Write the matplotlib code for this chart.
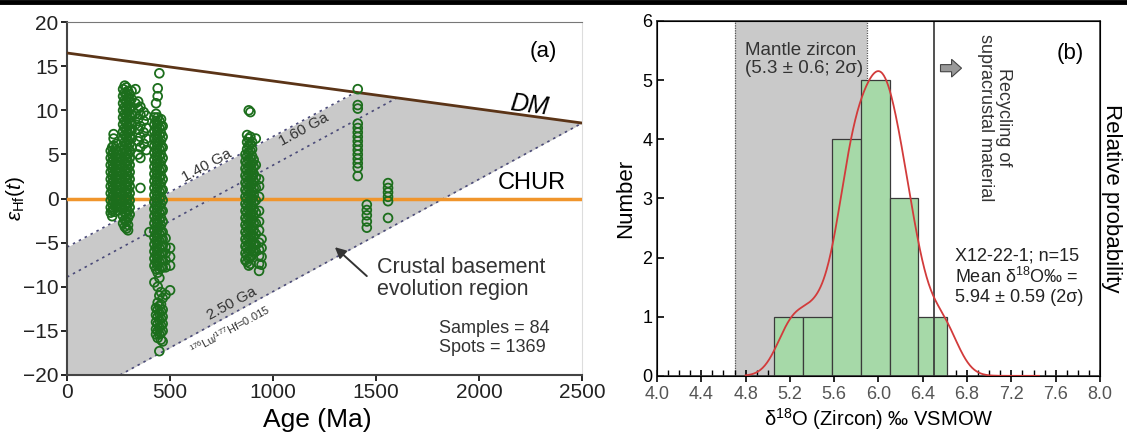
import numpy as np
import matplotlib.pyplot as plt
from matplotlib.lines import Line2D
from matplotlib.patches import FancyArrow

plt.rcParams['font.family'] = ['Liberation Sans', 'DejaVu Sans']
plt.rcParams['mathtext.fontset'] = 'custom'
plt.rcParams['mathtext.rm'] = 'Liberation Sans'
plt.rcParams['mathtext.it'] = 'Liberation Sans:italic'

# ---- panel (a) data: zircon Hf isotopes, columns of spots (age Ma, eHf values)
hf_cols = [
    (212, [5.4, 4.6, 3.8, 3.0, 2.2, 1.4, 0.6, -0.2, -1.0, -1.6]),
    (219, [5.8, 5.0, 4.2, 3.4, 2.6, 1.8, 1.0, 0.2, -0.6, -1.4, -2.0]),
    (226, [7.3, 6.8, 6.0, 5.2, 4.4, 3.6, 2.8, 2.0, 1.2, 0.4, -0.4, -1.2]),
    (233, [5.6, 4.8, 4.0, 3.2, 2.4, 1.6, 0.8, 0.0, -0.8, -1.5]),
    (240, [6.2, 5.4, 4.6, 3.8, 3.0, 2.2, 1.4, 0.6, -0.2, -1.0]),
    (247, [5.0, 4.2, 3.4, 2.6, 1.8, 1.0, 0.2, -0.6, -1.3]),
    (255, [4.6, 3.8, 3.0, 2.2, 1.4, 0.6, -0.2, -1.0]),
    (272, [12.4, 11.6, 10.8, 10.0, 9.2, 8.4, 7.6, 6.8, 6.0, 5.2, 4.4, 3.6, 2.8, 2.0,
           1.2, 0.4, -0.4, -1.2, -2.0, -2.8]),
    (280, [12.8, 12.0, 11.2, 10.4, 9.6, 8.8, 8.0, 7.2, 6.4, 5.6, 4.8, 4.0, 3.2, 2.4,
           1.6, 0.8, 0.0, -0.8, -1.6, -2.4, -3.2]),
    (288, [12.6, 11.8, 11.0, 10.2, 9.4, 8.6, 7.8, 7.0, 6.2, 5.4, 4.6, 3.8, 3.0, 2.2,
           1.4, 0.6, -0.2, -1.0, -1.8, -2.6, -3.4]),
    (296, [12.2, 11.4, 10.6, 9.8, 9.0, 8.2, 7.4, 6.6, 5.8, 5.0, 4.2, 3.4, 2.6, 1.8,
           1.0, 0.2, -0.6, -1.4, -2.2, -3.0, -3.6]),
    (304, [11.8, 11.0, 10.2, 9.4, 8.6, 7.8, 7.0, 6.2, 5.4, 4.6, 3.8, 3.0, 2.2, 1.4,
           0.6, -0.2, -1.0, -1.8]),
    (313, [12.2, 11.3, 10.4, 9.5, 8.6, 7.7, 6.8, 5.9]),
    (332, [12.4, 10.8, 9.6, 8.4]),
    (345, [11.0, 10.2, 9.0, 7.8, 6.5, 5.0]),
    (356, [10.4, 9.5, 8.2, 7.0, 5.8, 4.6, 1.2]),
    (372, [9.8, 8.8, 7.5, 6.2]),
    (385, [9.4, 8.0, 6.8, 5.5]),
    (400, [-3.8]),
    (424, [9.2, 8.4, 7.6, 6.8, 6.0, 5.2, 4.4, 3.6, 2.8, 2.0, 1.2, 0.4, -0.4, -1.2, -2.0,
           -2.8, -3.6, -4.4, -5.2, -6.0, -6.8, -7.6, -9.5]),
    (432, [10.8, 9.6, 8.8, 8.0, 7.2, 6.4, 5.6, 4.8, 4.0, 3.2, 2.4, 1.6, 0.8, 0.0, -0.8,
           -1.6, -2.4, -3.2, -4.0, -4.8, -5.6, -6.4, -7.2, -8.0, -12.4, -13.2, -14.0,
           -14.8, -15.4]),
    (440, [12.5, 11.6, 9.2, 8.4, 7.6, 6.8, 6.0, 5.2, 4.4, 3.6, 2.8, 2.0, 1.2, 0.4, -0.4,
           -1.2, -2.0, -2.8, -3.6, -4.4, -5.2, -6.0, -6.8, -7.6, -8.4, -10.0, -11.8,
           -12.6, -13.4, -14.2, -15.0, -15.8]),
    (448, [14.2, 8.8, 8.0, 7.2, 6.4, 5.6, 4.8, 4.0, 3.2, 2.4, 1.6, 0.8, 0.0, -0.8, -1.6,
           -2.4, -3.2, -4.0, -4.8, -5.6, -6.4, -7.2, -8.0, -9.0, -11.0, -12.2, -13.0,
           -13.8, -14.6, -15.4, -17.3]),
    (456, [9.0, 8.2, 7.4, 6.6, 5.8, 5.0, 4.2, 3.4, 2.6, 1.8, 1.0, 0.2, -0.6, -1.4, -2.2,
           -3.0, -3.8, -4.6, -5.4, -6.2, -7.0, -7.8, -10.6, -12.0, -12.8, -13.6, -14.4,
           -15.2, -16.0]),
    (464, [8.2, 7.0, 5.8, 4.6, 3.4, 2.2, 1.0, -0.2, -1.4, -2.6, -3.8, -4.6, -5.4, -6.2,
           -7.0, -7.8, -11.3, -12.6, -13.4, -14.2, -15.0, -16.2]),
    (478, [-4.5, -5.5, -6.2, -7.0, -7.8, -10.9]),
    (500, [-5.6, -6.6, -7.6, -10.4]),
    (866, [5.0, 4.2, 3.4, 2.6, 1.8, 1.0, 0.2, -0.6, -1.4, -2.2, -3.0, -3.8, -4.6, -5.4,
           -6.2, -7.0]),
    (874, [7.2, 6.4, 5.6, 4.8, 4.0, 3.2, 2.4, 1.6, 0.8, 0.0, -0.8, -1.6, -2.4, -3.2,
           -4.0, -4.8, -5.6, -6.4, -7.2]),
    (882, [10.0, 6.8, 6.0, 5.2, 4.4, 3.6, 2.8, 2.0, 1.2, 0.4, -0.4, -1.2, -2.0, -2.8,
           -3.6, -4.4, -5.2, -6.0, -6.8, -7.6]),
    (890, [9.8, 7.0, 6.2, 5.4, 4.6, 3.8, 3.0, 2.2, 1.4, 0.6, -0.2, -1.0, -1.8, -2.6,
           -3.4, -4.2, -5.0, -5.8, -6.6, -7.4]),
    (898, [6.4, 5.6, 4.8, 4.0, 3.2, 2.4, 1.6, 0.8, 0.0, -0.8, -1.6, -2.4, -3.2, -4.0,
           -4.8, -5.6, -6.4]),
    (906, [4.4, 3.6, 2.8, 2.0, 1.2, 0.4, -0.4, -1.2, -2.0, -2.8, -3.6, -4.4, -5.2, -6.0]),
    (916, [6.8, 3.8, 2.4, 1.2, -0.2, -1.6, -2.8, -4.0, -5.2, -6.0]),
    (932, [2.2, 1.4, 0.2, -1.4, -2.6, -3.6, -5.0, -5.8, -6.5, -7.4, -8.2]),
    (944, [-4.6, -5.6, -6.6, -7.5]),
    (1411, [12.4, 10.6, 10.2, 8.5, 8.0, 7.5, 7.0, 6.5, 6.0, 5.5, 5.0, 4.5, 4.0, 3.5, 2.55]),
    (1455, [-0.7, -1.3, -1.9, -2.6, -3.3]),
    (1558, [1.75, 1.2, 0.7, 0.2, -0.3, -2.2]),
]

# reference lines (Ma, eHf)
dm_age = [0, 2500]
dm_hf = [16.5, 8.56]
chur_hf = 0
crust_140_age = [0, 1400]
crust_140_hf = [-5.5, 12.05]
crust_160_age = [0, 1600]
crust_160_hf = [-8.9, 11.4]
crust_250_age = [257, 2500]
crust_250_hf = [-20.0, 8.56]

# ---- panel (b) data: d18O of zircon, sample X12-22-1
d18o = [5.22, 5.46, 5.68, 5.74, 5.79, 5.82, 5.92, 5.98, 6.03, 6.06, 6.08,
        6.18, 6.25, 6.33, 6.58]
bin_edges = [5.06, 5.32, 5.58, 5.84, 6.10, 6.36, 6.62]
mantle_lo, mantle_hi = 4.7, 5.9
recycle_x = 6.5

fig = plt.figure(figsize=(11.27, 4.34), dpi=100)
fig.add_artist(Line2D([0, 1], [0.996, 0.996], lw=3.5, color='black', transform=fig.transFigure))

# ================= panel (a)
ax = fig.add_axes([0.0595, 0.136, 0.457, 0.813])
ax.set_xlim(0, 2500)
ax.set_ylim(-20, 20)

t = np.linspace(0, 2500, 501)
dm = np.interp(t, dm_age, dm_hf)
top = np.minimum(dm, np.interp(t, crust_140_age, crust_140_hf, right=99))
bot = np.interp(t, crust_250_age, crust_250_hf, left=-30)
ax.fill_between(t, np.maximum(bot, -20), top, where=top > bot, color='#c9c9c9', lw=0, zorder=1)

for xs, ys in [(crust_140_age, crust_140_hf), (crust_160_age, crust_160_hf),
               (crust_250_age, crust_250_hf)]:
    ax.plot(xs, ys, ls=(0, (1.5, 2.5)), color='#4a4a78', lw=1.2, zorder=2)

ax.axhline(chur_hf, color='#f0952c', lw=2.5, zorder=3)
ax.plot(dm_age, dm_hf, color='#5b3417', lw=2, zorder=3)

ages, vals = [], []
for a, vs in hf_cols:
    ages += [a] * len(vs)
    vals += vs
ax.scatter(ages, vals, s=40, facecolors='none', edgecolors='#1c6e1c', linewidths=1.3, zorder=4)

ang = 28.5
lab = dict(rotation=ang, color='#333333', ha='center', va='center', zorder=5)
ax.text(680, 3.7, '1.40 Ga', fontsize=11, **lab)
ax.text(1150, 7.8, '1.60 Ga', fontsize=11, **lab)
ax.text(800, -11.9, '2.50 Ga', fontsize=11, **lab)
ax.text(790, -14.9, r'$^{176}$Lu/$^{177}$Hf=0.015', fontsize=8, **lab)
ax.text(2245, 10.6, 'DM', style='italic', fontsize=18, rotation=-7, ha='center', va='center')
ax.text(2255, 1.8, 'CHUR', fontsize=17, ha='center', va='center')
ax.text(2310, 16.7, '(a)', fontsize=16, ha='center', va='center')
ax.annotate('', xy=(1290, -5.3), xytext=(1465, -9.0),
            arrowprops=dict(arrowstyle='-|>', color='#333333', lw=1.4, mutation_scale=16))
ax.text(1505, -9.1, 'Crustal basement\nevolution region', fontsize=15.5, color='#333333',
        ha='left', va='center', linespacing=1.05)
ax.text(1805, -15.8, 'Samples = 84\nSpots = 1369', fontsize=13, color='#333333',
        ha='left', va='center', linespacing=1.1)

ax.set_xticks([0, 500, 1000, 1500, 2000, 2500])
ax.set_yticks(range(-20, 21, 5))
ax.tick_params(labelsize=15, length=4, width=1.2, direction='out', pad=2, labelcolor='#222222')
ax.set_xlabel('Age (Ma)', fontsize=19)
ax.xaxis.set_label_coords(0.485, -0.095)
ax.set_ylabel(r'$\varepsilon_{\rm Hf}(t)$', fontsize=15, va='center')
ax.yaxis.set_label_coords(-0.1, 0.5)
for s in ['left', 'bottom']:
    ax.spines[s].set_linewidth(1.5)
    ax.spines[s].set_color('#444444')
ax.spines['top'].set_color('#777777')
ax.spines['right'].set_color('#dddddd')

# ================= panel (b)
bx = fig.add_axes([0.583, 0.134, 0.393, 0.818])
bx.set_xlim(4.0, 8.0)
bx.set_ylim(0, 6)
bx.axvspan(mantle_lo, mantle_hi, color='#c9c9c9', lw=0, zorder=0)
for xv in (mantle_lo, mantle_hi):
    bx.axvline(xv, color='#555555', lw=0.9, ls=(0, (1, 1)), zorder=1)
bx.hist(d18o, bins=bin_edges, color='#a6d9a8', edgecolor='#3a3a3a', lw=0.9, zorder=2)
bx.axvline(recycle_x, color='#333333', lw=1.2, zorder=3)

xs = np.linspace(4.8, 7.45, 400)
dens = np.zeros_like(xs)
for v in d18o:
    dens += np.exp(-0.5 * ((xs - v) / 0.14) ** 2)
dens = dens / dens.max() * 5.15
bx.plot(xs, dens, color='#d23b3b', lw=1.3, zorder=4)

bx.text(4.79, 5.35, 'Mantle zircon\n(5.3 ± 0.6; 2σ)', fontsize=13.5, color='#333333',
        ha='left', va='center', linespacing=1.05)
bx.text(7.73, 5.45, '(b)', fontsize=16, ha='center', va='center')
bx.add_patch(FancyArrow(6.56, 5.2, 0.1, 0, width=0.12, head_width=0.3, head_length=0.09,
                        facecolor='#999999', edgecolor='#444444', lw=0.8, zorder=5))
bx.text(7.05, 5.78, 'Recycling of\nsupracrustal material', rotation=-90, fontsize=13,
        color='#333333', ha='center', va='top', linespacing=1.05)
bx.text(6.69, 1.68, 'X12-22-1; n=15\nMean δ$^{18}$O‰ =\n5.94 ± 0.59 (2σ)', fontsize=13,
        color='#222222', ha='left', va='center', linespacing=1.15)

bx.set_xticks(np.arange(4.0, 8.01, 0.4))
bx.set_xticklabels(['%.1f' % v for v in np.arange(4.0, 8.01, 0.4)])
bx.set_xticks(np.arange(4.0, 8.01, 0.1), minor=True)
bx.set_yticks(range(0, 7))
bx.tick_params(axis='x', which='major', direction='inout', length=8, width=1.2, labelsize=13)
bx.tick_params(axis='x', which='minor', direction='in', length=4, width=1.0)
bx.tick_params(axis='x', labelcolor='#555555')
bx.tick_params(axis='y', direction='in', length=5, width=1.2, labelsize=13)
bx.set_xlabel(r'$\mathregular{\delta^{18}}$O (Zircon) ‰ VSMOW', fontsize=14.5, labelpad=2)
bx.set_ylabel('Number', fontsize=16, labelpad=4)
for s in bx.spines.values():
    s.set_linewidth(1.2)
    s.set_color('#333333')

bt = bx.twinx()
bt.set_yticks([])
bt.set_ylabel('Relative probability', rotation=-90, fontsize=16, ha='center', va='center')
bt.yaxis.set_label_coords(1.026, 0.5)

fig.savefig('out.png', dpi=100)
